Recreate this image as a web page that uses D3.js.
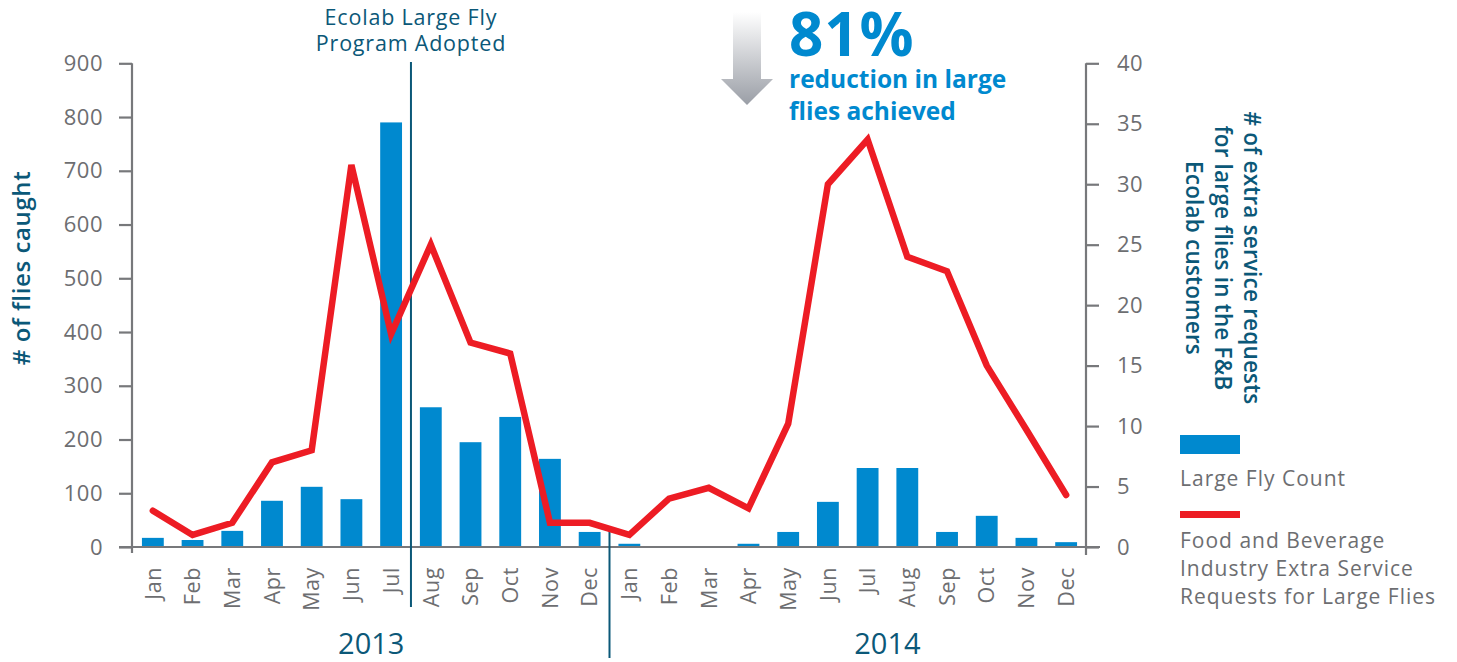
<!DOCTYPE html>
<html>
<head>
<meta charset="utf-8">
<script src="https://cdn.jsdelivr.net/npm/d3@7"></script>
<style>
  html, body { margin: 0; padding: 0; background: #fff; }
  svg { display: block; font-family: "Open Sans", "Noto Sans", sans-serif; }
</style>
</head>
<body>
<svg id="chart" width="1457" height="662"></svg>
<script>
// ---------- DATA ----------
const months = ["Jan","Feb","Mar","Apr","May","Jun","Jul","Aug","Sep","Oct","Nov","Dec"];
const years = ["2013","2014"];
const flyCount2013 = [17, 13, 30, 86, 112, 89, 790, 260, 195, 242, 164, 28];
const flyCount2014 = [6, 0, 0, 6, 28, 84, 147, 147, 28, 58, 17, 9];
const requests2013 = [3, 1, 2, 7, 8, 31.6, 17.6, 25, 16.9, 16, 2, 2];
const requests2014 = [1, 4, 4.9, 3.2, 10.2, 30, 33.7, 24, 22.8, 15, 9.7, 4.3];
const leftTicks = [0, 100, 200, 300, 400, 500, 600, 700, 800, 900];
const rightTicks = [0, 5, 10, 15, 20, 25, 30, 35, 40];
const leftTitle = "# of flies caught";
const rightTitle = ["# of extra service requests", "for large flies in the F&B", "Ecolab customers"];
const programNote = ["Ecolab Large Fly", "Program Adopted"];
const programMonth = "2013-Jul";
const calloutBig = "81%";
const calloutText = ["reduction in large", "flies achieved"];
const legendBar = "Large Fly Count";
const legendLine = ["Food and Beverage", "Industry Extra Service", "Requests for Large Flies"];

// ---------- BUILD ----------
const rows = [];
years.forEach((yr, yi) => {
  const fc = yi === 0 ? flyCount2013 : flyCount2014;
  const rq = yi === 0 ? requests2013 : requests2014;
  months.forEach((m, mi) => rows.push({ key: yr + "-" + m, year: yr, month: m, flies: fc[mi], req: rq[mi] }));
});

const BLUE = "#0089cf", RED = "#ed1c24", GRAY = "#6d6e71", TEAL = "#0b5878", AXIS = "#77787b";

const svg = d3.select("#chart");
const x = d3.scaleBand().domain(rows.map(d => d.key)).range([133, 1086]).paddingInner(0.45).paddingOuter(0.225);
const yL = d3.scaleLinear().domain([0, 900]).range([547, 63.3]);
const yR = d3.scaleLinear().domain([0, 40]).range([547, 63.3]);

// bars
svg.append("g").selectAll("rect").data(rows).join("rect")
  .attr("x", d => x(d.key))
  .attr("width", x.bandwidth())
  .attr("y", d => yL(d.flies))
  .attr("height", d => yL(0) - yL(d.flies))
  .attr("fill", BLUE);

// axes
const axL = svg.append("g").attr("transform", `translate(${x.range()[0] - 1},0)`)
  .call(d3.axisLeft(yL).tickValues(leftTicks).tickSize(13).tickSizeOuter(0).tickPadding(16));
const axR = svg.append("g").attr("transform", `translate(${x.range()[1]},0)`)
  .call(d3.axisRight(yR).tickValues(rightTicks).tickSize(13).tickSizeOuter(0).tickPadding(18));
[axL, axR].forEach(a => {
  a.select(".domain").remove();
  a.selectAll(".tick line").attr("stroke", AXIS).attr("stroke-width", 2.2);
  a.selectAll(".tick text").attr("fill", GRAY).style("font-size", "22px")
    .style("letter-spacing", "0.5px").style("font-family", "'Open Sans', sans-serif");
});
// axis lines
svg.append("line").attr("x1", x.range()[0] - 1).attr("x2", x.range()[0] - 1)
  .attr("y1", yL(900)).attr("y2", yL(0) + 6).attr("stroke", AXIS).attr("stroke-width", 2.2);
svg.append("line").attr("x1", x.range()[1]).attr("x2", x.range()[1])
  .attr("y1", yR(40)).attr("y2", yR(0) + 8).attr("stroke", AXIS).attr("stroke-width", 2.2);
svg.append("line").attr("x1", x.range()[0] - 14).attr("x2", x.range()[1] + 14)
  .attr("y1", yL(0)).attr("y2", yL(0)).attr("stroke", AXIS).attr("stroke-width", 2.2);

// month labels
svg.append("g").selectAll("text").data(rows).join("text")
  .attr("transform", d => `translate(${x(d.key) + x.bandwidth() / 2},${yL(0) + 20}) rotate(-90)`)
  .attr("text-anchor", "end").attr("dy", "0.36em")
  .attr("fill", GRAY).style("font-size", "21.5px").style("letter-spacing", "0.6px")
  .text(d => d.month);

// year labels (placed under the months as in the source graphic)
const yearAnchor = { "2013": ["2013-Jun", "2013-Jul"], "2014": ["2014-Jul", "2014-Aug"] };
years.forEach(yr => {
  const [a, b] = yearAnchor[yr];
  const cx = (x(a) + x(b) + x.bandwidth()) / 2;
  svg.append("text").attr("x", cx).attr("y", 654).attr("text-anchor", "middle")
    .attr("fill", TEAL).style("font-size", "29px").text(yr);
});

// year divider
const divX = (x(years[0] + "-Dec") + x.bandwidth() + x(years[1] + "-Jan")) / 2;
svg.append("line").attr("x1", divX).attr("x2", divX).attr("y1", 530).attr("y2", 658)
  .attr("stroke", TEAL).attr("stroke-width", 2);

// program adopted line
const progX = x(programMonth) + x.bandwidth() + (x.step() - x.bandwidth()) / 2;
svg.append("line").attr("x1", progX).attr("x2", progX).attr("y1", 62).attr("y2", 607)
  .attr("stroke", TEAL).attr("stroke-width", 2);
svg.append("text").attr("x", progX).attr("y", 25).attr("text-anchor", "middle")
  .attr("fill", TEAL).style("font-size", "21.5px").style("letter-spacing", "0.8px")
  .selectAll("tspan").data(programNote).join("tspan")
  .attr("x", progX).attr("dy", (d, i) => i ? 26 : 0).text(d => d);

// red line
const line = d3.line().x(d => x(d.key) + x.bandwidth() / 2).y(d => yR(d.req));
svg.append("path").datum(rows).attr("d", line).attr("fill", "none")
  .attr("stroke", RED).attr("stroke-width", 6.5).attr("stroke-linejoin", "miter").attr("stroke-linecap", "round");

// axis titles
svg.append("text").attr("transform", "translate(30,268) rotate(-90)").attr("text-anchor", "middle")
  .attr("fill", TEAL).style("font-size", "24px").style("font-weight", 600).style("letter-spacing", "0.6px").text(leftTitle);
svg.append("text").attr("transform", "translate(1244,258) rotate(90)").attr("text-anchor", "middle")
  .attr("fill", TEAL).style("font-size", "22.5px").style("font-weight", 600).style("letter-spacing", "0.2px")
  .selectAll("tspan").data(rightTitle).join("tspan")
  .attr("x", 0).attr("dy", (d, i) => i ? 29 : 0).text(d => d);

// callout arrow
const defs = svg.append("defs");
const grad = defs.append("linearGradient").attr("id", "arrowGrad").attr("x1", 0).attr("y1", 0).attr("x2", 0).attr("y2", 1);
grad.append("stop").attr("offset", "0%").attr("stop-color", "#ffffff");
grad.append("stop").attr("offset", "100%").attr("stop-color", "#9a9ea6");
svg.append("path").attr("d", "M733,12 L761,12 L761,79 L773,79 L747,105 L721,79 L733,79 Z").attr("fill", "url(#arrowGrad)");

svg.append("text").attr("x", 789).attr("y", 56).attr("fill", BLUE)
  .style("font-size", "60px").style("font-weight", 700).style("letter-spacing", "1px").text(calloutBig);
svg.append("text").attr("fill", BLUE).style("font-size", "24.5px").style("font-weight", 700)
  .selectAll("tspan").data(calloutText).join("tspan")
  .attr("x", 789).attr("y", (d, i) => 88 + i * 32).text(d => d);

// legend
svg.append("rect").attr("x", 1180).attr("y", 435).attr("width", 60).attr("height", 19).attr("fill", BLUE);
svg.append("text").attr("x", 1180).attr("y", 486).attr("fill", GRAY).style("font-size", "21px")
  .style("letter-spacing", "1px").text(legendBar);
svg.append("rect").attr("x", 1180).attr("y", 511).attr("width", 60).attr("height", 7).attr("fill", RED);
svg.append("text").attr("fill", GRAY).style("font-size", "21px").style("letter-spacing", "1px")
  .selectAll("tspan").data(legendLine).join("tspan")
  .attr("x", 1180).attr("y", (d, i) => 548 + i * 28).text(d => d);
</script>
</body>
</html>
